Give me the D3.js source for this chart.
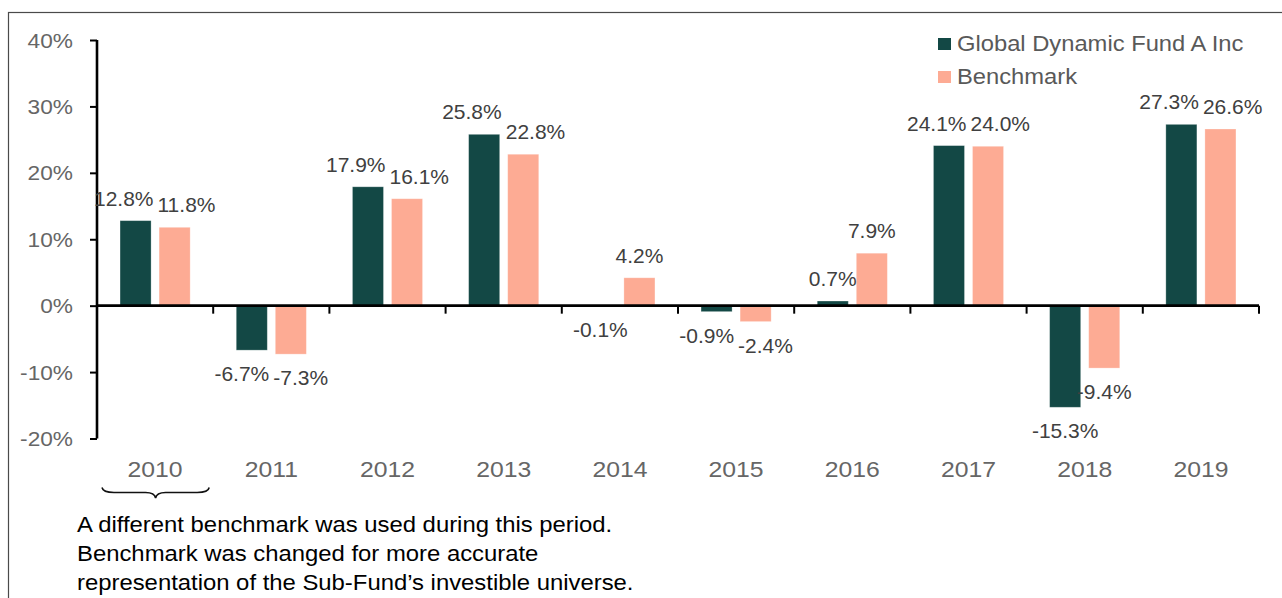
<!DOCTYPE html>
<html>
<head>
<meta charset="utf-8">
<script src="https://cdn.jsdelivr.net/npm/d3@7/dist/d3.min.js"></script>
<style>
  html, body { margin: 0; padding: 0; background: #fff; }
  svg { display: block; font-family: "Liberation Sans", Arial, Helvetica, sans-serif; }
</style>
</head>
<body>
<svg id="chart" width="1282" height="598"></svg>
<script>
// ---- data ----
const years = ["2010", "2011", "2012", "2013", "2014", "2015", "2016", "2017", "2018", "2019"];
const fundValues = [12.8, -6.7, 17.9, 25.8, -0.1, -0.9, 0.7, 24.1, -15.3, 27.3];
const benchValues = [11.8, -7.3, 16.1, 22.8, 4.2, -2.4, 7.9, 24.0, -9.4, 26.6];
const seriesNames = ["Global Dynamic Fund A Inc", "Benchmark"];
const yTickValues = [-20, -10, 0, 10, 20, 30, 40];
const noteLines = [
  "A different benchmark was used during this period.",
  "Benchmark was changed for more accurate",
  "representation of the Sub-Fund\u2019s investible universe."
];
const bracedYear = "2010";

// ---- styles ----
const colors = ["#134845", "#FDAB94"];
const SX = 1.07; // horizontal text stretch seen in the reference

const svg = d3.select("#chart");

// frame
svg.append("rect")
  .attr("x", 8.5).attr("y", 12.5)
  .attr("width", 1400).attr("height", 800)
  .attr("fill", "none").attr("stroke", "#4a4a4a").attr("stroke-width", 1.2);

const x0 = d3.scaleBand().domain(years).range([97, 1259]).paddingInner(0).paddingOuter(0);
const x1 = d3.scaleBand().domain(seriesNames).range([0, x0.bandwidth()]).paddingInner(0.205).paddingOuter(0.59);
const y = d3.scaleLinear().domain([-20, 40]).range([438.5, 40]);

function stretchedText(g, x, yy, txt, opts) {
  const t = g.append("text")
    .attr("transform", `translate(${x},${yy}) scale(${opts.sx || SX},1)`)
    .attr("text-anchor", opts.anchor || "middle")
    .attr("font-size", opts.size)
    .attr("fill", opts.fill)
    .text(txt);
  return t;
}

// ---- bars ----
const rows = years.map((yr, i) => ({ year: yr, values: [fundValues[i], benchValues[i]] }));
const barG = svg.append("g");
rows.forEach(r => {
  r.values.forEach((v, s) => {
    const top = y(Math.max(0, v)), bot = y(Math.min(0, v));
    barG.append("rect")
      .attr("x", x0(r.year) + x1(seriesNames[s]))
      .attr("y", top)
      .attr("width", x1.bandwidth())
      .attr("height", Math.max(0.6, bot - top))
      .attr("fill", colors[s])
      .attr("stroke", "#ffffff").attr("stroke-opacity", 0.35).attr("stroke-width", 0.8);
  });
});

// ---- axes ----
const yAxisG = svg.append("g").attr("transform", "translate(97,0)")
  .call(d3.axisLeft(y).tickValues(yTickValues).tickSize(7).tickFormat(""));
yAxisG.select(".domain").attr("stroke", "#000").attr("stroke-width", 2.6).attr("d", `M0,${y(-20)}V${y(40)}`);
yAxisG.selectAll(".tick line").attr("stroke", "#000").attr("stroke-width", 2);
yTickValues.forEach(v => {
  stretchedText(svg, 73, y(v) + 7.5, v + "%", { size: 21, fill: "#666666", anchor: "end", sx: 1.08 });
});

const xAxisG = svg.append("g").attr("transform", `translate(0,${y(0)})`)
  .call(d3.axisBottom(x0).tickSize(0).tickFormat(""));
xAxisG.select(".domain").attr("stroke", "#000").attr("stroke-width", 2.8).attr("d", `M97,0H1259`);
xAxisG.selectAll(".tick").remove();
const boundaries = years.map(yr => x0(yr)).slice(1).concat([x0(years[years.length - 1]) + x0.bandwidth()]);
boundaries.forEach(bx => {
  xAxisG.append("line").attr("x1", bx).attr("x2", bx).attr("y1", 0).attr("y2", 8)
    .attr("stroke", "#000").attr("stroke-width", 2);
});
years.forEach(yr => {
  stretchedText(svg, x0(yr) + x0.bandwidth() / 2, 477, yr, { size: 22.5, fill: "#666666", sx: 1.1 });
});

// ---- data labels ----
const labelG = svg.append("g");
rows.forEach(r => {
  const labs = r.values.map((v, s) => {
    const cx = x0(r.year) + x1(seriesNames[s]) + x1.bandwidth() / 2;
    const base = v >= 0 ? y(v) - 15 : y(v) + 31;
    const t = stretchedText(labelG, cx, base, v.toFixed(1) + "%", { size: 20, fill: "#404040", sx: 1.05 });
    const w = t.node().getComputedTextLength() * 1.05;
    return { v, cx, base, t, w };
  });
  const [a, b] = labs;
  if ((a.v >= 0) === (b.v >= 0) && Math.abs(a.base - b.base) < 22) {
    const need = (a.w + b.w) / 2 + 4;
    const sep = b.cx - a.cx;
    if (sep < need) {
      const d = (need - sep) / 2;
      a.cx -= d; b.cx += d;
      a.t.attr("transform", `translate(${a.cx},${a.base}) scale(1.05,1)`);
      b.t.attr("transform", `translate(${b.cx},${b.base}) scale(1.05,1)`);
    }
  }
});

// ---- legend ----
const legG = svg.append("g");
seriesNames.forEach((name, i) => {
  const ly = 38 + i * 33;
  legG.append("rect").attr("x", 938).attr("y", ly).attr("width", 13).attr("height", 12).attr("fill", colors[i]);
  stretchedText(legG, 957, ly + 13, name, { size: 22, fill: "#595959", anchor: "start", sx: 1.08 });
});

// ---- brace + note ----
const bx1 = x0(bracedYear) + 5, bx2 = x0(bracedYear) + x0.bandwidth() - 4;
const bcx = (bx1 + bx2) / 2, by0 = 487.5, by1 = 492.5, by2 = 498;
svg.append("path")
  .attr("d", `M${bx1},${by0} Q${bx1 + 1},${by1} ${bx1 + 12},${by1} L${bcx - 10},${by1} Q${bcx - 1},${by1} ${bcx},${by2} Q${bcx + 1},${by1} ${bcx + 10},${by1} L${bx2 - 12},${by1} Q${bx2 - 1},${by1} ${bx2},${by0}`)
  .attr("fill", "none").attr("stroke", "#111").attr("stroke-width", 1.6);

noteLines.forEach((ln, i) => {
  stretchedText(svg, 77, 532 + i * 29, ln, { size: 22, fill: "#000000", anchor: "start", sx: 1.085 });
});
</script>
</body>
</html>
